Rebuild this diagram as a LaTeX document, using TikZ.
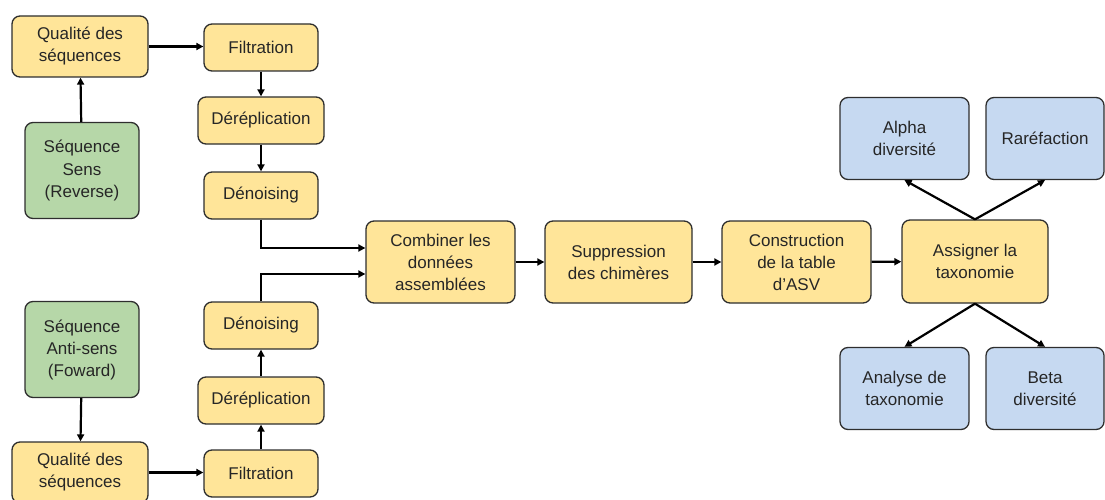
\documentclass[tikz,border=0pt]{standalone}
\usepackage{fontspec}
\setmainfont{Liberation Sans}
\usetikzlibrary{arrows.meta}

\definecolor{stepyellow}{HTML}{FFE599}
\definecolor{seqgreen}{HTML}{B6D7A8}
\definecolor{resblue}{HTML}{C6D9F1}
\definecolor{edgegray}{HTML}{2E2E2E}

\begin{document}
\begin{tikzpicture}[x=1pt, y=-1pt, >={Triangle[length=7pt,width=7pt]},
  box/.style={draw=edgegray, line width=1.3pt, rounded corners=8pt, align=center,
    inner sep=0pt, text=black!85, font=\fontsize{17}{22}\selectfont},
  stepbox/.style={box, fill=stepyellow, minimum width=114pt, minimum height=47pt},
  seqbox/.style={box, fill=seqgreen, minimum width=114pt, minimum height=96pt},
  resbox/.style={box, fill=resblue, minimum height=82pt},
  link/.style={->, line width=2.2pt, black}]

\useasboundingbox (0,0) rectangle (1105,500);

%------------------ UPPER BRANCH (Reverse) ------------------%
\node[stepbox, minimum width=136pt, minimum height=61pt] (qual1) at (80,46.5) {Qualité des\\séquences};
\node[seqbox] (seq1) at (82,170.5) {Séquence\\Sens\\(Reverse)};
\node[stepbox] (filt1) at (261,47.5) {Filtration};
\node[stepbox, minimum width=126pt] (derep1) at (261,120.5) {Déréplication};
\node[stepbox] (denois1) at (261,195.5) {Dénoising};

%------------------ LOWER BRANCH (Forward) ------------------%
\node[seqbox] (seq2) at (82,349.5) {Séquence\\Anti-sens\\(Foward)};
\node[stepbox, minimum width=136pt, minimum height=61pt] (qual2) at (80,472.5) {Qualité des\\séquences};
\node[stepbox] (filt2) at (261,473.5) {Filtration};
\node[stepbox, minimum width=126pt] (derep2) at (261,400.5) {Déréplication};
\node[stepbox] (denois2) at (261,325.5) {Dénoising};

%------------------ MAIN LINE ------------------%
\node[stepbox, minimum width=149pt, minimum height=82pt] (comb) at (440.5,262) {Combiner les\\données\\assemblées};
\node[stepbox, minimum width=147pt, minimum height=82pt] (supp) at (618.5,262) {Suppression\\des chimères};
\node[stepbox, minimum width=149pt, minimum height=82pt] (asv) at (796.5,262) {Construction\\de la table\\d'ASV};
\node[stepbox, minimum width=146pt, minimum height=83pt] (taxo) at (975,261.5) {Assigner la\\taxonomie};

%------------------ ANALYSES ------------------%
\node[resbox, minimum width=129pt] (alpha) at (904.5,138.5) {Alpha\\diversité};
\node[resbox, minimum width=118pt] (raref) at (1045,138.5) {Raréfaction};
\node[resbox, minimum width=129pt] (anal) at (904.5,388.5) {Analyse de\\taxonomie};
\node[resbox, minimum width=118pt] (beta) at (1045,388.5) {Beta\\diversité};

%------------------ ARROWS ------------------%
\draw[link] (seq1) -- (qual1);
\draw[link] (qual1.east) -- (qual1.east -| filt1.west);
\draw[link] (filt1) -- (derep1);
\draw[link] (derep1) -- (denois1);
\coordinate (jointop) at (denois1.south |- 0,248);
\draw[link] (denois1.south) -- (jointop) -- (jointop -| comb.west);

\draw[link] (seq2) -- (qual2);
\draw[link] (qual2.east) -- (qual2.east -| filt2.west);
\draw[link] (filt2) -- (derep2);
\draw[link] (derep2) -- (denois2);
\coordinate (joinbot) at (denois2.north |- 0,274);
\draw[link] (denois2.north) -- (joinbot) -- (joinbot -| comb.west);

\draw[link] (comb) -- (supp);
\draw[link] (supp) -- (asv);
\draw[link] (asv) -- (taxo);

\draw[link] (taxo.north) -- (alpha.south);
\draw[link] (taxo.north) -- (raref.south);
\draw[link] (taxo.south) -- (anal.north);
\draw[link] (taxo.south) -- (beta.north);

\end{tikzpicture}
\end{document}
